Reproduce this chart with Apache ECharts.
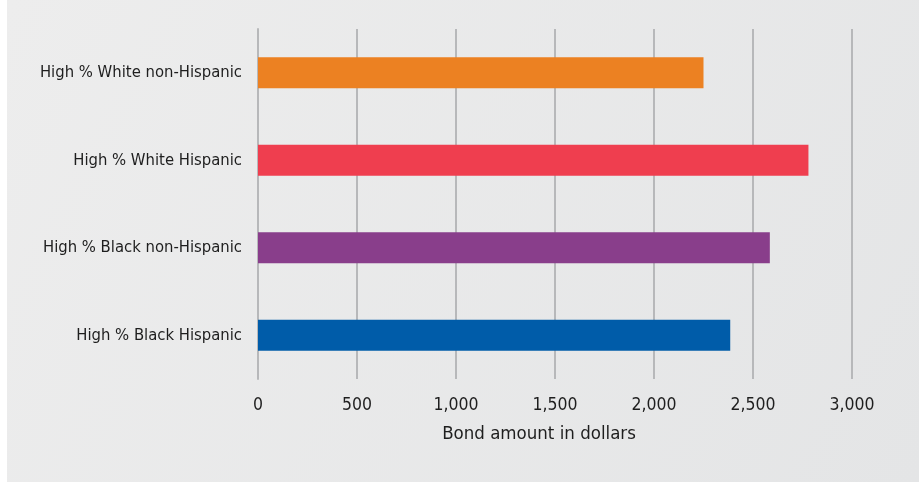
<!DOCTYPE html>
<html>
<head>
<meta charset="utf-8">
<script src="https://cdn.jsdelivr.net/npm/echarts@6/dist/echarts.min.js"></script>
<style>
html,body{margin:0;padding:0;background:#ffffff;}
#chart{width:919px;height:483px;}
</style>
</head>
<body>
<div id="chart"></div>
<script>
const categories = ["High % White non-Hispanic", "High % White Hispanic", "High % Black non-Hispanic", "High % Black Hispanic"];
const values = [2250, 2780, 2585, 2385];
const barColors = ["#ec8122", "#ef3e4f", "#893e8b", "#005ca9"];
const xTicks = { min: 0, max: 3000, interval: 500 };
const xName = "Bond amount in dollars";

const FONT = "'DejaVu Sans Condensed', sans-serif";
const chart = echarts.init(document.getElementById('chart'), null, { renderer: 'canvas' });
chart.setOption({
  backgroundColor: '#ffffff',
  animation: false,
  graphic: [{
    type: 'rect', z: -10, silent: true,
    shape: { x: 7, y: 0, width: 912, height: 482 },
    style: {
      fill: new echarts.graphic.LinearGradient(0, 0, 1, 1, [
        { offset: 0, color: '#ededed' },
        { offset: 1, color: '#e4e5e6' }
      ])
    }
  }],
  grid: { left: 258, right: 67, top: 29, bottom: 104, containLabel: false },
  xAxis: {
    type: 'value', min: xTicks.min, max: xTicks.max, interval: xTicks.interval,
    axisLine: { show: false }, axisTick: { show: false },
    splitLine: { show: true, lineStyle: { color: '#b7b8ba', width: 2 } },
    axisLabel: {
      color: '#1e1e1e', fontFamily: FONT, fontSize: 17.5, margin: 17,
      formatter: v => v.toLocaleString('en-US')
    },
    name: xName, nameLocation: 'middle', nameGap: 46,
    nameTextStyle: { color: '#1e1e1e', fontFamily: FONT, fontSize: 18.5, padding: [0, 32, 0, 0] }
  },
  yAxis: {
    type: 'category', data: categories, inverse: true,
    axisLine: { show: true, lineStyle: { color: '#b7b8ba', width: 2 } },
    axisTick: { show: false },
    splitLine: { show: false },
    axisLabel: { color: '#1e1e1e', fontFamily: FONT, fontSize: 16.5, margin: 16 }
  },
  series: [{
    type: 'bar', barWidth: 31,
    data: values.map((v, i) => ({ value: v, itemStyle: { color: barColors[i] } }))
  }]
});
</script>
</body>
</html>
